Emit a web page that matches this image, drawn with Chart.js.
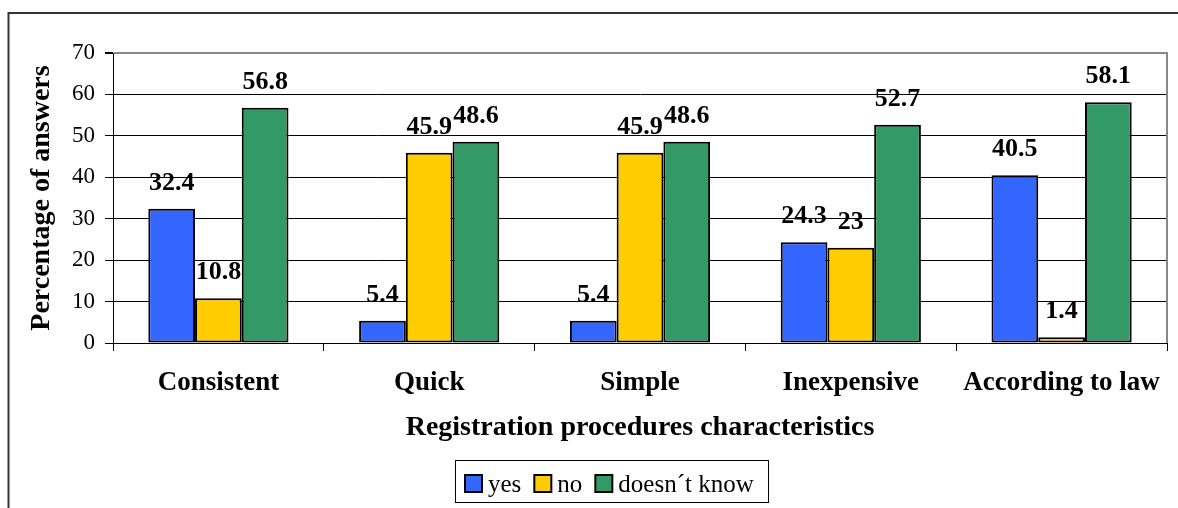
<!DOCTYPE html>
<html>
<head>
<meta charset="utf-8">
<script src="https://cdn.jsdelivr.net/npm/chart.js@4/dist/chart.umd.min.js"></script>
<style>
  html, body { margin: 0; padding: 0; background: #fff; }
  #wrap { position: relative; width: 1178px; height: 508px; }
</style>
</head>
<body>
<div id="wrap"><canvas id="chart" width="1178" height="508"></canvas></div>
<script>
// Survey answers per registration-procedure characteristic (%)
const categories = ['Consistent', 'Quick', 'Simple', 'Inexpensive', 'According to law'];
const seriesNames = ['yes', 'no', 'doesn\u00b4t know'];
const yesValues = [32.4, 5.4, 5.4, 24.3, 40.5];
const noValues = [10.8, 45.9, 45.9, 23, 1.4];
const dontKnowValues = [56.8, 48.6, 48.6, 52.7, 58.1];
const seriesColors = ['#3366FF', '#FFCC00', '#339966'];
const yMin = 0, yMax = 70, yStep = 10;

const SERIF = "'Liberation Serif', 'Times New Roman', serif";

// White page with the dark frame around the whole figure
const framePlugin = {
  id: 'frame',
  beforeDraw(chart) {
    const ctx = chart.ctx;
    ctx.save();
    ctx.fillStyle = '#fff';
    ctx.fillRect(0, 0, chart.width, chart.height);
    ctx.strokeStyle = '#333';
    ctx.lineWidth = 2;
    ctx.beginPath();
    ctx.moveTo(8.5, chart.height);
    ctx.lineTo(8.5, 13);
    ctx.lineTo(chart.width, 13);
    ctx.stroke();
    ctx.restore();
  },
  afterDraw(chart) {
    // grey plot-area border on the right side
    const a = chart.chartArea, ctx = chart.ctx;
    ctx.save();
    ctx.strokeStyle = '#888';
    ctx.lineWidth = 2;
    ctx.beginPath();
    ctx.moveTo(a.right, a.top - 1);
    ctx.lineTo(a.right, a.bottom);
    ctx.stroke();
    ctx.restore();
  }
};

// Value written above each bar
const valueLabels = {
  id: 'valueLabels',
  afterDatasetsDraw(chart) {
    const ctx = chart.ctx;
    ctx.save();
    ctx.font = 'bold 26px ' + SERIF;
    ctx.fillStyle = '#000';
    ctx.textAlign = 'center';
    ctx.textBaseline = 'alphabetic';
    chart.data.datasets.forEach((ds, di) => {
      chart.getDatasetMeta(di).data.forEach((bar, i) => {
        ctx.fillText(String(ds.data[i]), bar.x, bar.y - 19);
      });
    });
    ctx.restore();
  }
};

// Boxed legend under the axis title
const boxedLegend = {
  id: 'boxedLegend',
  afterDraw(chart) {
    const ctx = chart.ctx;
    const box = { x: 455.5, y: 460.5, w: 313, h: 42 };
    ctx.save();
    ctx.fillStyle = '#fff';
    ctx.fillRect(box.x, box.y, box.w, box.h);
    ctx.strokeStyle = '#000';
    ctx.lineWidth = 1;
    ctx.strokeRect(box.x, box.y, box.w, box.h);
    ctx.font = '25px ' + SERIF;
    ctx.textBaseline = 'alphabetic';
    ctx.textAlign = 'left';
    let x = 465;
    chart.data.datasets.forEach(ds => {
      ctx.fillStyle = ds.backgroundColor;
      ctx.fillRect(x, 475, 17, 17);
      ctx.strokeStyle = '#000';
      ctx.lineWidth = 2;
      ctx.strokeRect(x, 475, 17, 17);
      ctx.fillStyle = '#000';
      ctx.fillText(ds.label, x + 23, 492);
      x += 23 + ctx.measureText(ds.label).width + 13;
    });
    ctx.restore();
  }
};

const valueSets = [yesValues, noValues, dontKnowValues];

new Chart(document.getElementById('chart'), {
  type: 'bar',
  data: {
    labels: categories,
    datasets: seriesNames.map((name, i) => ({
      label: name,
      data: valueSets[i],
      backgroundColor: seriesColors[i],
      borderColor: '#000',
      borderWidth: 2,
      borderSkipped: false,
      categoryPercentage: 0.665,
      barPercentage: 1.0
    }))
  },
  options: {
    responsive: false,
    animation: false,
    devicePixelRatio: 1,
    layout: { padding: { left: 0, top: 53, right: 11, bottom: 0 } },
    plugins: {
      legend: { display: false },
      tooltip: { enabled: false }
    },
    scales: {
      x: {
        ticks: { color: '#000', font: { family: SERIF, size: 27, weight: 'bold' }, padding: 16, maxRotation: 0 },
        grid: { drawOnChartArea: false, drawTicks: true, tickLength: 8, color: '#000', offset: true },
        border: { display: true, color: '#000', width: 1 },
        title: {
          display: true,
          text: 'Registration procedures characteristics',
          color: '#000',
          font: { family: SERIF, size: 28, weight: 'bold' },
          padding: { top: 0, bottom: 63 }
        },
        afterFit(scale) { scale.height = 165; }
      },
      y: {
        min: yMin,
        max: yMax,
        ticks: { stepSize: yStep, color: '#000', font: { family: SERIF, size: 23 }, padding: 10 },
        grid: {
          color: c => (c.tick && c.tick.value === yMax ? '#888' : '#000'),
          lineWidth: c => (c.tick && c.tick.value === yMax ? 2 : 1),
          tickColor: '#000',
          tickLength: 8,
          drawTicks: true
        },
        border: { display: true, color: '#000', width: 1 },
        title: {
          display: true,
          text: 'Percentage of answers',
          color: '#000',
          font: { family: SERIF, size: 28, weight: 'bold' },
          padding: { top: 25, bottom: 0 }
        },
        afterFit(scale) { scale.width = 113; }
      }
    }
  },
  plugins: [framePlugin, valueLabels, boxedLegend]
});
</script>
</body>
</html>
